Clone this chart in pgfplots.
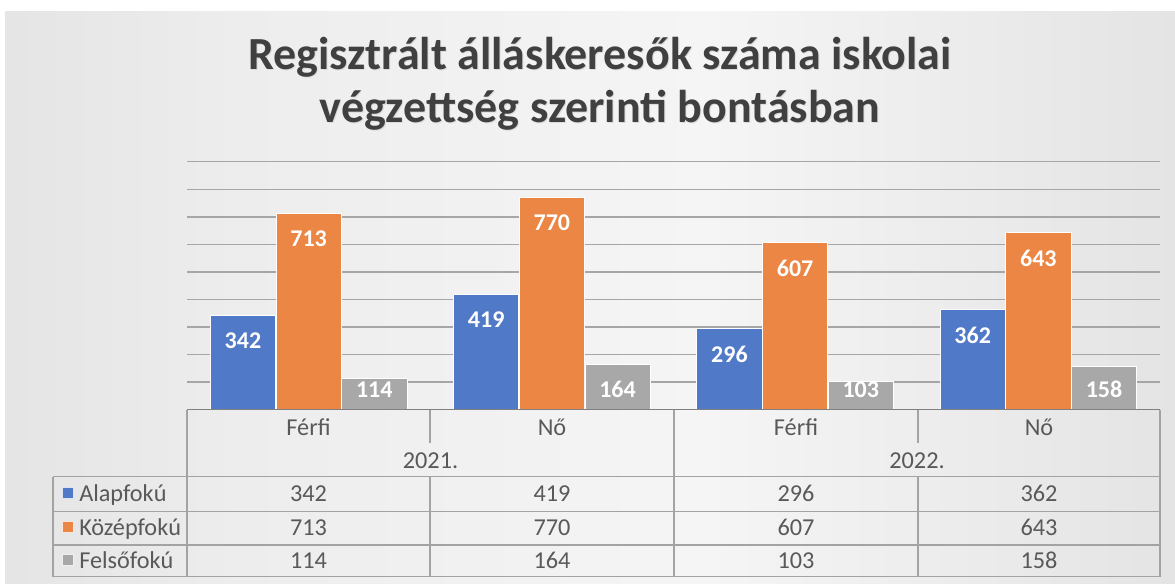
\documentclass[border=0pt]{standalone}
\usepackage{fontspec}
\setmainfont{Carlito}
\usepackage{pgfplots}
\pgfplotsset{compat=1.18}

\definecolor{cBlue}{HTML}{5079C8}
\definecolor{cOrange}{HTML}{EC8644}
\definecolor{cGray}{HTML}{A8A8A8}
\definecolor{bg1}{HTML}{D0D0D0}
\definecolor{bg2}{HTML}{EDEDED}
\definecolor{bg3}{HTML}{F5F5F5}
\definecolor{bg4}{HTML}{E4E4E4}
\definecolor{bg5}{HTML}{BDBDBD}
\definecolor{gridc}{HTML}{A6A6A6}
\definecolor{linec}{HTML}{A3A3A3}
\definecolor{titlec}{HTML}{404040}
\definecolor{textc}{HTML}{595959}
\pgfdeclarehorizontalshading{bgsh}{100bp}{color(0bp)=(bg1); color(35bp)=(bg2); color(55bp)=(bg3); color(75bp)=(bg4); color(100bp)=(bg5)}

\begin{document}
\begin{tikzpicture}
% background, drawn in pixel units (y downwards)
\begin{scope}[x=0.75pt,y=-0.75pt]
\fill[white] (0,0) rectangle (1175,583);
\shade[shading=bgsh] (5,11) rectangle (1175,583);
\path[use as bounding box] (0,0) rectangle (1175,583);
\foreach \yy/\txt in {69.3/{Regisztrált álláskeresők száma iskolai},122.7/{végzettség szerinti bontásban}}{
  \node[anchor=base, inner sep=0, text=black!14, font=\fontsize{34.5}{40}\selectfont\bfseries] at (601,\yy+1) {\txt};
  \node[anchor=base, inner sep=0, text=titlec, font=\fontsize{34.5}{40}\selectfont\bfseries] at (600,\yy) {\txt};
}
\end{scope}

\begin{axis}[
  at={(140.25pt,-307.125pt)}, anchor=south west,
  scale only axis, width=729.75pt, height=185.85pt,
  xmin=-0.5, xmax=3.5, ymin=0, ymax=900,
  ytick={100,200,...,900}, yticklabels={}, xtick=\empty,
  ymajorgrids, grid style={draw=gridc, line width=1.1pt},
  axis line style={draw=none}, tick style={draw=none},
  ybar=0pt, bar width=0.268, clip=false,
  /pgf/number format/assume math mode=true,
  every node near coord/.append style={font=\fontsize{18}{18}\selectfont\bfseries, text=white, inner sep=0pt},
]
\addplot[fill=cBlue, draw=white, line width=0.6pt, bar shift=-0.27, nodes near coords,
  every node near coord/.append style={anchor=north, yshift=-13pt}]
  coordinates {(0,342) (1,419) (2,296) (3,362)};
\addplot[fill=cOrange, draw=white, line width=0.6pt, bar shift=0, nodes near coords,
  every node near coord/.append style={anchor=north, yshift=-13pt}]
  coordinates {(0,713) (1,770) (2,607) (3,643)};
\addplot[fill=cGray, draw=white, line width=0.6pt, bar shift=0.27, nodes near coords,
  visualization depends on={rawy \as \ry},
  every node near coord/.append style={anchor=south, yshift={8.4pt-\ry*0.2065pt}}]
  coordinates {(0,114) (1,164) (2,103) (3,158)};
\end{axis}

% data table under the axis
\begin{scope}[x=0.75pt,y=-0.75pt]
\tikzset{tl/.style={draw=linec, line width=1.1pt}}
\draw[tl] (187,409.5) -- (187,576.7);
\draw[tl] (674,409.5) -- (674,576.7);
\draw[tl] (1160,409.5) -- (1160,576.7);
\draw[tl] (430,409.5) -- (430,443);
\draw[tl] (918,409.5) -- (918,443);
\draw[tl] (53,476.7) -- (53,576.7);
\draw[tl] (430,476.7) -- (430,576.7);
\draw[tl] (918,476.7) -- (918,576.7);
\foreach \yy in {476.7,511.7,545,576.7}{\draw[tl] (53,\yy) -- (1160,\yy);}
\draw[draw=black!50, line width=1.4pt] (187,409.5) -- (1160,409.5);
\tikzset{tt/.style={anchor=base, inner sep=0, text=textc, font=\fontsize{18.2}{20}\selectfont}}
\foreach \xx/\lab in {308.5/Férfi,552/Nő,796/Férfi,1039/Nő}{\node[tt] at (\xx,435) {\lab};}
\node[tt] at (430.5,468) {2021.};
\node[tt] at (917,468) {2022.};
\foreach \yy/\cc/\lab/\a/\b/\c/\d in {
  501.7/cBlue/Alapfokú/342/419/296/362,
  535.8/cOrange/Középfokú/713/770/607/643,
  568.3/cGray/Felsőfokú/114/164/103/158}{
  \fill[\cc, draw=white!80!\cc, line width=0.5pt] (62,\yy-14) rectangle (73,\yy-3);
  \node[tt, anchor=base west] at (79,\yy) {\lab};
  \node[tt] at (308.5,\yy) {\a};
  \node[tt] at (552,\yy) {\b};
  \node[tt] at (796,\yy) {\c};
  \node[tt] at (1039,\yy) {\d};
}
\end{scope}
\end{tikzpicture}
\end{document}
